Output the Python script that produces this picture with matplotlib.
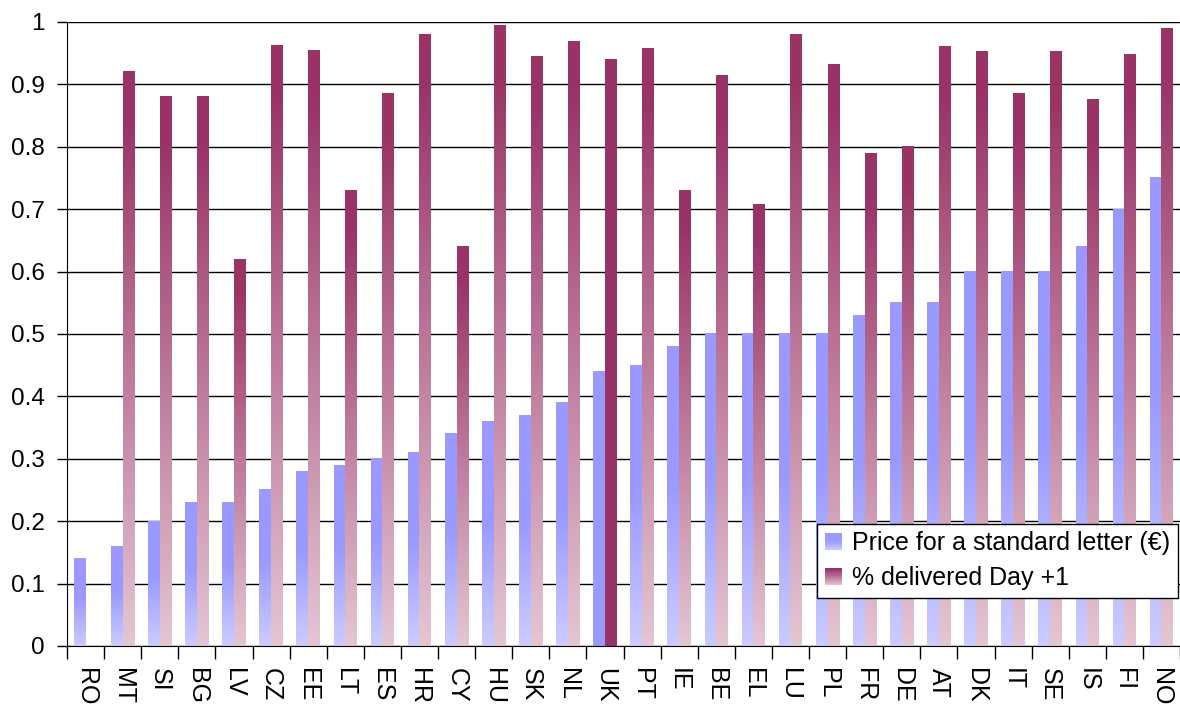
import numpy as np
import matplotlib
matplotlib.use("Agg")
import matplotlib.pyplot as plt
from matplotlib.patches import Rectangle
from matplotlib.legend_handler import HandlerBase
from matplotlib.colors import to_rgb

# Datos por país
paises = ["RO", "MT", "SI", "BG", "LV", "CZ", "EE", "LT", "ES", "HR",
          "CY", "HU", "SK", "NL", "UK", "PT", "IE", "BE", "EL", "LU",
          "PL", "FR", "DE", "AT", "DK", "IT", "SE", "IS", "FI", "NO"]
precio = [0.14, 0.16, 0.20, 0.23, 0.23, 0.25, 0.28, 0.29, 0.30, 0.31,
          0.34, 0.36, 0.37, 0.39, 0.44, 0.45, 0.48, 0.50, 0.50, 0.50,
          0.50, 0.53, 0.55, 0.55, 0.60, 0.60, 0.60, 0.64, 0.70, 0.75]
entrega = [np.nan, 0.92, 0.88, 0.88, 0.62, 0.962, 0.954, 0.73, 0.885, 0.98,
           0.64, 0.995, 0.944, 0.968, 0.94, 0.957, 0.73, 0.915, 0.708, 0.98,
           0.932, 0.79, 0.80, 0.96, 0.952, 0.885, 0.952, 0.876, 0.948, 0.99]
etiquetas_y = ["0", "0.1", "0.2", "0.3", "0.4", "0.5", "0.6", "0.7", "0.8", "0.9", "1"]
series = ["Price for a standard letter (€)", "% delivered Day +1"]
resaltado = "UK"

# Colores (abajo, arriba) de cada degradado
azul_abajo, azul_arriba = "#CCCCFF", "#9999FF"
rosa_abajo, rosa_arriba = "#E4C6D4", "#993366"

plt.rcParams['font.family'] = ['Liberation Sans', 'DejaVu Sans']


def mezcla(abajo, arriba, t, solido):
    # t=0 abajo, t=1 arriba; la parte superior queda con el color pleno
    f = np.clip(t / (1 - solido), 0, 1)
    a = np.array(to_rgb(abajo))
    b = np.array(to_rgb(arriba))
    return a + (b - a) * f[..., None]


def pintar_degradado(ax, barras, abajo, arriba, solido):
    t = np.linspace(0, 1, 256)
    img = mezcla(abajo, arriba, t, solido)[:, None, :]
    for b in barras:
        h = b.get_height()
        if np.isnan(h):
            continue
        x0 = b.get_x()
        ax.imshow(img, extent=(x0, x0 + b.get_width(), 0, h), origin='lower',
                  aspect='auto', interpolation='bilinear', zorder=2)


class ManejadorDegradado(HandlerBase):
    def __init__(self, abajo, arriba, solido):
        super().__init__()
        self.abajo, self.arriba, self.solido = abajo, arriba, solido

    def create_artists(self, legend, orig_handle, xdescent, ydescent,
                       width, height, fontsize, trans):
        n = 16
        t = (np.arange(n) + 0.5) / n
        cols = mezcla(self.abajo, self.arriba, t, self.solido)
        piezas = []
        for i in range(n):
            r = Rectangle((-xdescent, -ydescent + height * i / n), width, height / n * 1.05,
                          facecolor=cols[i], edgecolor='none', linewidth=0,
                          antialiased=False, transform=trans)
            piezas.append(r)
        return piezas


fig, ax = plt.subplots(figsize=(11.8, 7.04), dpi=100)
fig.subplots_adjust(left=0.0568, right=1.0, bottom=0.0824, top=0.9688)

x = np.arange(len(paises))
ancho = 0.315

barras_precio = ax.bar(x - ancho / 2, precio, ancho, color='none', linewidth=0, zorder=2)
barras_entrega = ax.bar(x + ancho / 2, entrega, ancho, color='none', linewidth=0, zorder=2)

# Barras con degradado, salvo el país resaltado que va en color liso
normales_p = [b for b, p in zip(barras_precio, paises) if p != resaltado]
normales_e = [b for b, p in zip(barras_entrega, paises) if p != resaltado]
pintar_degradado(ax, normales_p, azul_abajo, azul_arriba, 0.45)
pintar_degradado(ax, normales_e, rosa_abajo, rosa_arriba, 0.08)
i_res = paises.index(resaltado)
barras_precio[i_res].set_facecolor(azul_arriba)
barras_entrega[i_res].set_facecolor(rosa_arriba)

ax.set_xlim(-0.5, len(paises) - 0.5)
ax.set_ylim(0, 1)

# Eje Y
ax.set_yticks(np.arange(len(etiquetas_y)) / 10)
ax.set_yticklabels(etiquetas_y)
ax.tick_params(axis='y', length=7, width=1, pad=9, labelsize=17.5, color='black')
ax.yaxis.grid(True, color='black', linewidth=1)
ax.set_axisbelow(True)

# Eje X: etiquetas verticales y marcas entre categorías
ax.set_xticks(x)
ax.set_xticklabels(paises, rotation=-90)
ax.tick_params(axis='x', which='major', length=0, pad=16, labelsize=18)
ax.set_xticks(np.arange(-0.5, len(paises), 1), minor=True)
ax.tick_params(axis='x', which='minor', length=9, width=1, color='black')

for lado in ["top", "right"]:
    ax.spines[lado].set_visible(False)
ax.spines["left"].set_color('black')
ax.spines["bottom"].set_color('black')

# Leyenda
h1 = Rectangle((0, 0), 1, 1)
h2 = Rectangle((0, 0), 1, 1)
leg = ax.legend([h1, h2], series, loc='lower right', bbox_to_anchor=(0.998, 0.077),
                borderaxespad=0, fontsize=18, frameon=True, fancybox=False,
                edgecolor='black', framealpha=1, handlelength=0.7, handleheight=0.7,
                handletextpad=0.4, labelspacing=0.45, borderpad=0.3,
                handler_map={h1: ManejadorDegradado(azul_abajo, azul_arriba, 0.45),
                             h2: ManejadorDegradado(rosa_abajo, rosa_arriba, 0.08)})
leg.get_frame().set_linewidth(1)
leg.set_zorder(5)

plt.savefig("out.png", dpi=100)
